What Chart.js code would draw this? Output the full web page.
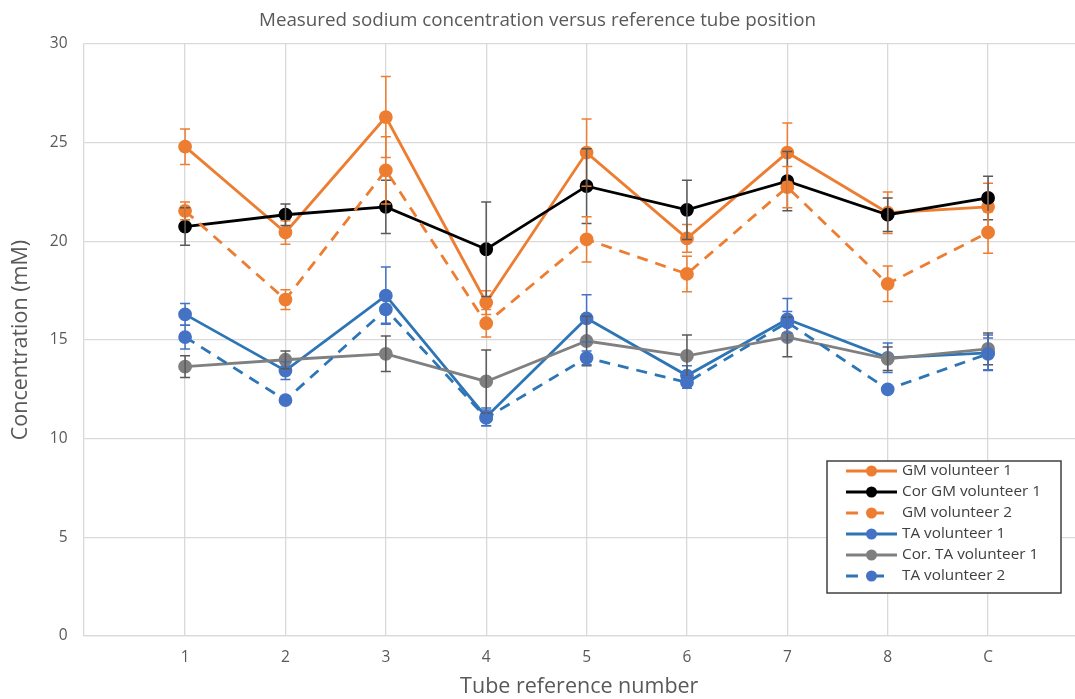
<!DOCTYPE html>
<html>
<head>
<meta charset="utf-8">
<script src="https://cdn.jsdelivr.net/npm/chart.js@4.4.1/dist/chart.umd.min.js"></script>
<style>
  html, body { margin: 0; padding: 0; background: #fff; overflow: hidden; }
  #chart { display: block; }
</style>
</head>
<body>
<canvas id="chart" width="1075" height="699"></canvas>
<script>
// tube positions on the x axis (C = control), plotted at 1..9
const categories = ["1", "2", "3", "4", "5", "6", "7", "8", "C"];
const positions = [1, 2, 3, 4, 5, 6, 7, 8, 9];

const yTicks = [0, 5, 10, 15, 20, 25, 30];

// values (mM), with +/- error bar sizes
const gmVol1 = [24.8, 20.45, 26.3, 16.9, 24.5, 20.15, 24.5, 21.45, 21.75];
const gmVol1Err = [0.9, 0.6, 2.05, 0.6, 1.7, 0.7, 1.5, 1.05, 1.2];

const corGmVol1 = [20.75, 21.35, 21.75, 19.6, 22.8, 21.6, 23.05, 21.35, 22.2];
const corGmVol1Err = [0.95, 0.55, 1.35, 2.4, 1.9, 1.5, 1.5, 0.85, 1.1];

const gmVol2 = [21.55, 17.05, 23.6, 15.85, 20.1, 18.35, 22.75, 17.85, 20.45];
const gmVol2Err = [0.45, 0.5, 1.7, 0.7, 1.15, 0.9, 1.05, 0.9, 1.05];

const taVol1 = [16.3, 13.45, 17.25, 11.1, 16.1, 13.2, 16.05, 14.1, 14.35];
const taVol1Err = [0.55, 0.45, 1.45, 0.45, 1.2, 0.5, 1.05, 0.75, 0.9];

const corTaVol1 = [13.65, 14.0, 14.3, 12.9, 14.95, 14.2, 15.15, 14.05, 14.55];
const corTaVol1Err = [0.55, 0.45, 0.9, 1.6, 1.25, 1.05, 1.0, 0.6, 0.8];

const taVol2 = [15.15, 11.95, 16.55, 11.05, 14.1, 12.85, 15.9, 12.5, 14.3];
const taVol2Err = [0.6, 0.15, 0.7, 0.4, 0.35, 0.3, 0.55, 0.15, 0.8];

const FONT = "'Open Sans', 'Noto Sans', sans-serif";
const TEXT = "#595959";
const GRID = "#d9d9d9";

function toPoints(values) {
    return positions.map((x, i) => ({ x: x, y: values[i] }));
}

function series(label, values, errors, color, marker, errColor, dashed, n) {
    return {
        label: label,
        data: toPoints(values),
        errors: errors,
        errorColor: errColor,
        borderColor: color,
        backgroundColor: marker,
        pointBackgroundColor: marker,
        pointBorderColor: marker,
        pointRadius: 5.5,
        pointHoverRadius: 5.5,
        borderWidth: 2.8,
        borderDash: dashed ? [11, 8] : [],
        tension: 0,
        fill: false,
        order: 6 - n // later series on top, like the spreadsheet
    };
}

const datasets = [
    series("GM volunteer 1", gmVol1, gmVol1Err, "#ED7D31", "#ED7D31", "#ED7D31", false, 0),
    series("Cor GM volunteer 1", corGmVol1, corGmVol1Err, "#000000", "#000000", "#595959", false, 1),
    series("GM volunteer 2", gmVol2, gmVol2Err, "#ED7D31", "#ED7D31", "#ED7D31", true, 2),
    series("TA volunteer 1", taVol1, taVol1Err, "#2E75B6", "#4472C4", "#4472C4", false, 3),
    series("Cor. TA volunteer 1", corTaVol1, corTaVol1Err, "#808080", "#7F7F7F", "#595959", false, 4),
    series("TA volunteer 2", taVol2, taVol2Err, "#2E75B6", "#4472C4", "#4472C4", true, 5)
];

// ==========================
// ERROR BARS (no built-in support in Chart.js)
// ==========================

const errorBars = {
    id: "errorBars",
    afterDatasetsDraw(chart) {
        const { ctx } = chart;
        const y = chart.scales.y;
        chart.data.datasets.forEach((ds, i) => {
            const meta = chart.getDatasetMeta(i);
            ctx.save();
            ctx.strokeStyle = ds.errorColor;
            ctx.lineWidth = 1.5;
            meta.data.forEach((pt, j) => {
                const v = ds.data[j].y;
                const e = ds.errors[j];
                const top = y.getPixelForValue(v + e);
                const bot = y.getPixelForValue(v - e);
                ctx.beginPath();
                ctx.moveTo(pt.x, top);
                ctx.lineTo(pt.x, bot);
                ctx.moveTo(pt.x - 5, top);
                ctx.lineTo(pt.x + 5, top);
                ctx.moveTo(pt.x - 5, bot);
                ctx.lineTo(pt.x + 5, bot);
                ctx.stroke();
            });
            ctx.restore();
        });
    }
};

// ==========================
// BOXED LEGEND inside the plot, bottom right
// ==========================

const boxLegend = {
    id: "boxLegend",
    afterDraw(chart, args, opts) {
        const { ctx } = chart;
        const { left, top, width, rowHeight } = opts;
        const rows = chart.data.datasets;
        const height = rows.length * rowHeight + 6;

        ctx.save();
        ctx.fillStyle = "#fff";
        ctx.fillRect(left, top, width, height);
        ctx.strokeStyle = "#404040";
        ctx.lineWidth = 1.5;
        ctx.strokeRect(left, top, width, height);

        ctx.font = "15.3px " + FONT;
        ctx.textBaseline = "middle";
        rows.forEach((ds, i) => {
            const cy = top + 10 + i * rowHeight;
            const x0 = left + 19;
            const x1 = left + 70;
            ctx.strokeStyle = ds.borderColor;
            ctx.lineWidth = 2.8;
            ctx.setLineDash(ds.borderDash.length ? [12, 14] : []);
            ctx.beginPath();
            ctx.moveTo(x0, cy);
            ctx.lineTo(x1, cy);
            ctx.stroke();
            ctx.setLineDash([]);
            ctx.fillStyle = ds.pointBackgroundColor;
            ctx.beginPath();
            ctx.arc((x0 + x1) / 2, cy, 5.5, 0, Math.PI * 2);
            ctx.fill();
            ctx.fillStyle = "#404040";
            ctx.fillText(ds.label, left + 75, cy);
        });
        ctx.restore();
    }
};

// ==========================
// CHART
// ==========================

new Chart(document.getElementById("chart"), {
    type: "line",
    data: { datasets: datasets },
    plugins: [errorBars, boxLegend],
    options: {
        responsive: false,
        animation: false,
        // no auto padding: the plot runs to the right edge of the picture
        layout: { autoPadding: false, padding: 0 },
        plugins: {
            legend: { display: false },
            tooltip: { enabled: false },
            title: {
                display: true,
                text: "Measured sodium concentration versus reference tube position",
                color: TEXT,
                font: { family: FONT, size: 18.8, weight: "normal" },
                padding: { top: 9, bottom: 12.5 }
            },
            boxLegend: { left: 827, top: 461, width: 234, rowHeight: 21 }
        },
        scales: {
            x: {
                type: "linear",
                min: -0.012,
                max: 9.866,
                afterBuildTicks: axis => {
                    axis.ticks = positions.map(v => ({ value: v }));
                },
                afterFit: axis => { axis.height = 63; },
                grid: { color: GRID, lineWidth: 1.3, drawTicks: false },
                border: { color: GRID, width: 1.3 },
                ticks: {
                    color: TEXT,
                    padding: 12,
                    font: { family: FONT, size: 15.5 },
                    callback: v => categories[positions.indexOf(v)]
                },
                title: {
                    display: true,
                    text: "Tube reference number",
                    color: TEXT,
                    font: { family: FONT, size: 21.5 },
                    padding: { top: 0, bottom: -1 }
                }
            },
            y: {
                min: 0,
                max: 30,
                afterBuildTicks: axis => {
                    axis.ticks = yTicks.map(v => ({ value: v }));
                },
                afterFit: axis => { axis.width = 83.5; },
                grid: { color: GRID, lineWidth: 1.3, drawTicks: false },
                border: { color: GRID, width: 1.3 },
                ticks: {
                    color: TEXT,
                    padding: 16,
                    font: { family: FONT, size: 15.5 }
                },
                title: {
                    display: true,
                    text: "Concentration (mM)",
                    color: TEXT,
                    font: { family: FONT, size: 21.5 },
                    padding: { top: 8, bottom: 0 }
                }
            }
        }
    }
});
</script>
</body>
</html>
